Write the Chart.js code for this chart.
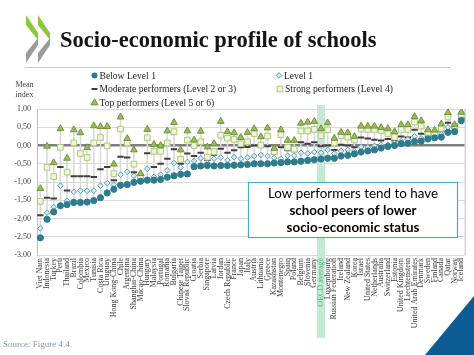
<!DOCTYPE html>
<html><head><meta charset="utf-8">
<script src="https://cdn.jsdelivr.net/npm/chart.js@4.4.1/dist/chart.umd.min.js"></script>
<style>html,body{margin:0;padding:0;background:#fff;overflow:hidden}canvas{display:block}</style>
</head><body>
<canvas id="c" width="474" height="355"></canvas>
<script>
const categories = ["Viet Nam","Indonesia","Turkey","Peru","Thailand","Brazil","Colombia","Mexico","Tunisia","Costa Rica","Uruguay","Hong Kong-China","Chile","Argentina","Shanghai-China","Macao-China","Hungary","Malaysia","Portugal","Romania","Bulgaria","Chinese Taipei","Slovak Republic","Croatia","Serbia","Singapore","Latvia","Jordan","Czech Republic","France","Japan","Italy","Austria","Lithuania","Greece","Kazakhstan","Montenegro","Spain","Poland","Belgium","Slovenia","Germany","OECD average","Luxembourg","Russian Federation","Ireland","New Zealand","Korea","Israel","United States","Netherlands","Australia","Switzerland","Estonia","United Kingdom","Liechtenstein","United Arab Emirates","Denmark","Sweden","Finland","Canada","Qatar","Norway","Iceland"];

const belowLevel1 = [-2.53,-2.02,-1.82,-1.65,-1.62,-1.56,-1.56,-1.55,-1.51,-1.43,-1.30,-1.20,-1.09,-1.07,-1.01,-0.98,-0.95,-0.95,-0.93,-0.87,-0.83,-0.79,-0.78,-0.58,-0.56,-0.55,-0.56,-0.55,-0.55,-0.54,-0.53,-0.52,-0.50,-0.50,-0.50,-0.48,-0.47,-0.45,-0.45,-0.43,-0.41,-0.39,-0.37,-0.35,-0.35,-0.29,-0.27,-0.23,-0.18,-0.15,-0.12,-0.07,-0.03,0.00,0.05,0.06,0.11,0.12,0.18,0.21,0.23,0.36,0.38,0.68];

const level1 = [-2.27,-1.84,-1.69,-1.10,-1.52,-1.27,-1.24,-1.24,-1.24,-1.10,-1.03,-1.07,-0.80,-0.72,-0.83,-0.94,-0.64,-0.86,-0.80,-0.68,-0.48,-0.60,-0.45,-0.42,-0.35,-0.48,-0.36,-0.33,-0.40,-0.32,-0.36,-0.33,-0.29,-0.26,-0.29,-0.34,-0.36,-0.28,-0.28,-0.20,-0.22,-0.18,-0.20,-0.12,-0.22,-0.15,-0.12,-0.15,-0.04,-0.05,-0.01,0.02,0.02,0.07,0.12,0.17,0.25,0.20,0.26,0.27,0.31,0.50,0.46,0.72];

const moderate = [-1.91,-1.43,-1.45,-0.59,-1.23,-0.84,-0.84,-0.84,-0.86,-0.65,-0.59,-0.95,-0.31,-0.33,-0.73,-0.90,-0.21,-0.59,-0.50,-0.36,-0.10,-0.50,-0.22,-0.29,-0.20,-0.40,-0.25,-0.09,-0.20,-0.13,-0.05,-0.04,0.00,-0.03,-0.02,-0.22,-0.05,-0.13,-0.16,0.09,0.05,0.09,-0.02,0.00,-0.12,0.02,0.00,-0.05,0.22,0.19,0.16,0.14,0.18,0.14,0.25,0.22,0.43,0.32,0.27,0.29,0.39,0.62,0.47,0.75];

const strong = [-1.53,-0.60,-0.85,-0.05,-0.73,0.07,-0.22,-0.33,0.07,0.22,-0.01,-0.77,0.45,0.07,-0.51,-0.85,0.21,-0.16,-0.16,0.07,0.38,-0.38,0.15,0.00,0.10,-0.32,-0.17,0.28,0.20,0.17,0.05,0.10,0.32,0.01,0.26,-0.17,0.30,-0.05,-0.10,0.40,0.40,0.44,0.27,0.43,0.07,0.27,0.23,0.15,0.45,0.44,0.44,0.41,0.32,0.23,0.44,0.44,0.64,0.53,0.36,0.32,0.47,0.78,0.53,0.85];

const topPerf = [-1.18,-0.02,-0.47,0.46,-0.35,0.43,0.35,-0.06,0.54,0.52,0.52,-0.51,0.78,0.19,-0.12,-0.77,0.44,0.03,0.00,0.40,0.63,-0.12,0.40,0.15,0.39,-0.04,0.05,0.66,0.38,0.35,0.22,0.36,0.46,0.24,0.48,-0.08,0.43,0.14,0.14,0.61,0.64,0.66,0.46,0.62,0.20,0.36,0.35,0.25,0.53,0.53,0.53,0.49,0.47,0.38,0.57,0.57,0.79,0.68,0.43,0.42,0.59,0.90,0.57,0.91];

const yTicks = [1, 0.5, 0, -0.5, -1, -1.5, -2, -2.5, -3];
const seriesLabels = ["Below Level 1","Level 1","Moderate performers (Level 2 or 3)","Strong performers (Level 4)","Top performers (Level 5 or 6)"];
const highlightCategory = "OECD average";
const titleText = "Socio-economic profile of schools";
const boxLines = ["Low performers tend to have","school peers of lower","socio-economic status"];
const sourceText = "Source: Figure 4.4.";

const SERIF = "'Liberation Serif', 'Times New Roman', serif";
const C = {
  circle: '#2E7B8C',
  diamondFill: '#D7E8F0', diamondStroke: '#5D9DB8',
  dash: '#3F3F3F',
  squareFill: '#EEF4E0', squareStroke: '#AFC97A',
  triFill: '#9BBB59', triStroke: '#76923C'
};

const ranges = categories.map((_, i) => {
  const v = [belowLevel1[i], level1[i], moderate[i], strong[i], topPerf[i]];
  return [Math.min(...v), Math.max(...v)];
});
const hiIdx = categories.indexOf(highlightCategory);

function marker(ctx, type, x, y) {
  ctx.save();
  ctx.lineWidth = 1;
  if (type === 0) {
    ctx.fillStyle = C.circle; ctx.beginPath(); ctx.arc(x, y, 3, 0, Math.PI*2); ctx.fill();
  } else if (type === 1) {
    ctx.fillStyle = C.diamondFill; ctx.strokeStyle = C.diamondStroke;
    ctx.beginPath(); ctx.moveTo(x, y-2.8); ctx.lineTo(x+2.8, y); ctx.lineTo(x, y+2.8); ctx.lineTo(x-2.8, y); ctx.closePath(); ctx.fill(); ctx.stroke();
  } else if (type === 2) {
    ctx.strokeStyle = C.dash; ctx.lineWidth = 2; ctx.beginPath(); ctx.moveTo(x-3, y); ctx.lineTo(x+3, y); ctx.stroke();
  } else if (type === 3) {
    ctx.fillStyle = C.squareFill; ctx.strokeStyle = C.squareStroke; ctx.fillRect(x-2.8, y-2.8, 5.6, 5.6); ctx.strokeRect(x-2.8, y-2.8, 5.6, 5.6);
  } else {
    ctx.fillStyle = C.triFill; ctx.strokeStyle = C.triStroke;
    ctx.beginPath(); ctx.moveTo(x, y-3.8); ctx.lineTo(x+3.6, y+2.4); ctx.lineTo(x-3.6, y+2.4); ctx.closePath(); ctx.fill(); ctx.stroke();
  }
  ctx.restore();
}

const deco = {
  id: 'deco',
  beforeDraw(chart) {
    const {ctx, chartArea: a, scales: {x}} = chart;
    const px = x.getPixelForValue(hiIdx);
    ctx.save();
    ctx.fillStyle = '#C4E9D5';
    ctx.fillRect(px - 4, a.top - 4, 8, 338 - (a.top - 4));
    ctx.restore();
  },
  afterDraw(chart) {
    const {ctx, chartArea: a} = chart;
    ctx.save();
    ctx.strokeStyle = '#BFBFBF'; ctx.lineWidth = 1;
    ctx.beginPath(); ctx.moveTo(a.right + 0.5, a.top); ctx.lineTo(a.right + 0.5, a.bottom); ctx.stroke();

    [26, 38].forEach(x0 => {
      ctx.fillStyle = '#8DC63F';
      ctx.beginPath(); ctx.moveTo(x0, 15); ctx.lineTo(x0+12, 33); ctx.lineTo(x0+12, 40); ctx.lineTo(x0, 25); ctx.closePath(); ctx.fill();
      ctx.fillStyle = '#9C9C9C';
      ctx.beginPath(); ctx.moveTo(x0+12, 38); ctx.lineTo(x0, 53); ctx.lineTo(x0, 63); ctx.lineTo(x0+12, 45); ctx.closePath(); ctx.fill();
    });

    ctx.fillStyle = '#141414';
    ctx.font = "bold 22.5px " + SERIF;
    ctx.textAlign = 'left'; ctx.textBaseline = 'alphabetic';
    ctx.fillText(titleText, 60, 46.5);

    ctx.strokeStyle = '#C8C8C8'; ctx.lineWidth = 1;
    ctx.beginPath(); ctx.moveTo(25, 67.5); ctx.lineTo(450, 67.5); ctx.stroke();

    const pos = [[94.5, 75.5], [279, 75.5], [94.5, 89], [280, 89], [94.5, 102.5]];
    ctx.font = "9.6px " + SERIF; ctx.textBaseline = 'middle';
    seriesLabels.forEach((lab, i) => {
      const [mx, my] = pos[i];
      marker(ctx, i, mx, my);
      ctx.fillStyle = '#262626';
      ctx.fillText(lab, mx + 5, my + 0.5);
    });

    ctx.font = "8px " + SERIF; ctx.textAlign = 'center'; ctx.fillStyle = '#404040';
    ctx.fillText('Mean', 24.5, 85);
    ctx.fillText('index', 24.5, 94.5);

    ctx.fillStyle = '#ffffff'; ctx.fillRect(248, 182, 210, 56);
    ctx.strokeStyle = '#4BACC6'; ctx.lineWidth = 1.2; ctx.strokeRect(248.5, 182.5, 209, 55);
    ctx.fillStyle = '#000000'; ctx.textAlign = 'center'; ctx.textBaseline = 'alphabetic';
    ctx.font = "13.4px Lato, 'Open Sans', sans-serif"; ctx.fillText(boxLines[0], 353, 197.5);
    ctx.font = "bold 13.4px Lato, 'Open Sans', sans-serif"; ctx.fillText(boxLines[1], 353, 214.5); ctx.fillText(boxLines[2], 353, 231.5);

    ctx.textAlign = 'left'; ctx.font = "9px " + SERIF; ctx.fillStyle = '#8497B0';
    ctx.fillText(sourceText, 3, 346.5);

    ctx.fillStyle = '#0B5C93';
    ctx.beginPath(); ctx.moveTo(474, 296); ctx.lineTo(425, 355); ctx.lineTo(474, 355); ctx.closePath(); ctx.fill();
    ctx.restore();
  }
};

const pt = (label, data, style, radius, bg, border, bw, order) => ({
  type: 'line', label, data, showLine: false, pointStyle: style, pointRadius: radius, pointHoverRadius: radius,
  pointBackgroundColor: bg, pointBorderColor: border, pointBorderWidth: bw, borderColor: border, backgroundColor: bg, order
});

new Chart(document.getElementById('c'), {
  data: {
    labels: categories,
    datasets: [
      pt(seriesLabels[4], topPerf, 'triangle', 3.9, C.triFill, C.triStroke, 1, 1),
      pt(seriesLabels[0], belowLevel1, 'circle', 3.1, C.circle, C.circle, 1, 2),
      pt(seriesLabels[3], strong, 'rect', 4, C.squareFill, C.squareStroke, 1, 3),
      pt(seriesLabels[1], level1, 'rectRot', 2.8, C.diamondFill, C.diamondStroke, 1, 4),
      pt(seriesLabels[2], moderate, 'line', 3.2, C.dash, C.dash, 2, 5),
      { type: 'bar', label: 'range', data: ranges, backgroundColor: '#DADADA', barThickness: 1, order: 10 }
    ]
  },
  options: {
    responsive: false, animation: false, devicePixelRatio: 1,
    layout: { padding: { top: 109, right: 9, left: 0, bottom: 0 } },
    plugins: { legend: { display: false }, tooltip: { enabled: false } },
    scales: {
      x: {
        type: 'category', offset: true,
        grid: { display: false, drawTicks: false },
        border: { display: false },
        ticks: {
          autoSkip: false, minRotation: 90, maxRotation: 90, padding: 3,
          font: { family: SERIF, size: 8 },
          color: c => c.index === hiIdx ? '#4FAF80' : '#404040'
        },
        afterFit: s => { s.height = 100; }
      },
      y: {
        min: -3, max: 1,
        afterBuildTicks: s => { s.ticks = yTicks.map(v => ({ value: v })); },
        ticks: {
          callback: v => v.toFixed(2).replace('.', ','),
          font: { family: SERIF, size: 8 }, color: '#404040', padding: 6
        },
        grid: {
          color: c => c.tick && c.tick.value === 0 ? '#7F7F7F' : '#D9D9D9',
          lineWidth: c => c.tick && c.tick.value === 0 ? 2.5 : 1,
          drawTicks: false
        },
        border: { color: '#BFBFBF' },
        afterFit: s => { s.width = 37; }
      }
    }
  },
  plugins: [deco]
});
</script>
</body></html>
